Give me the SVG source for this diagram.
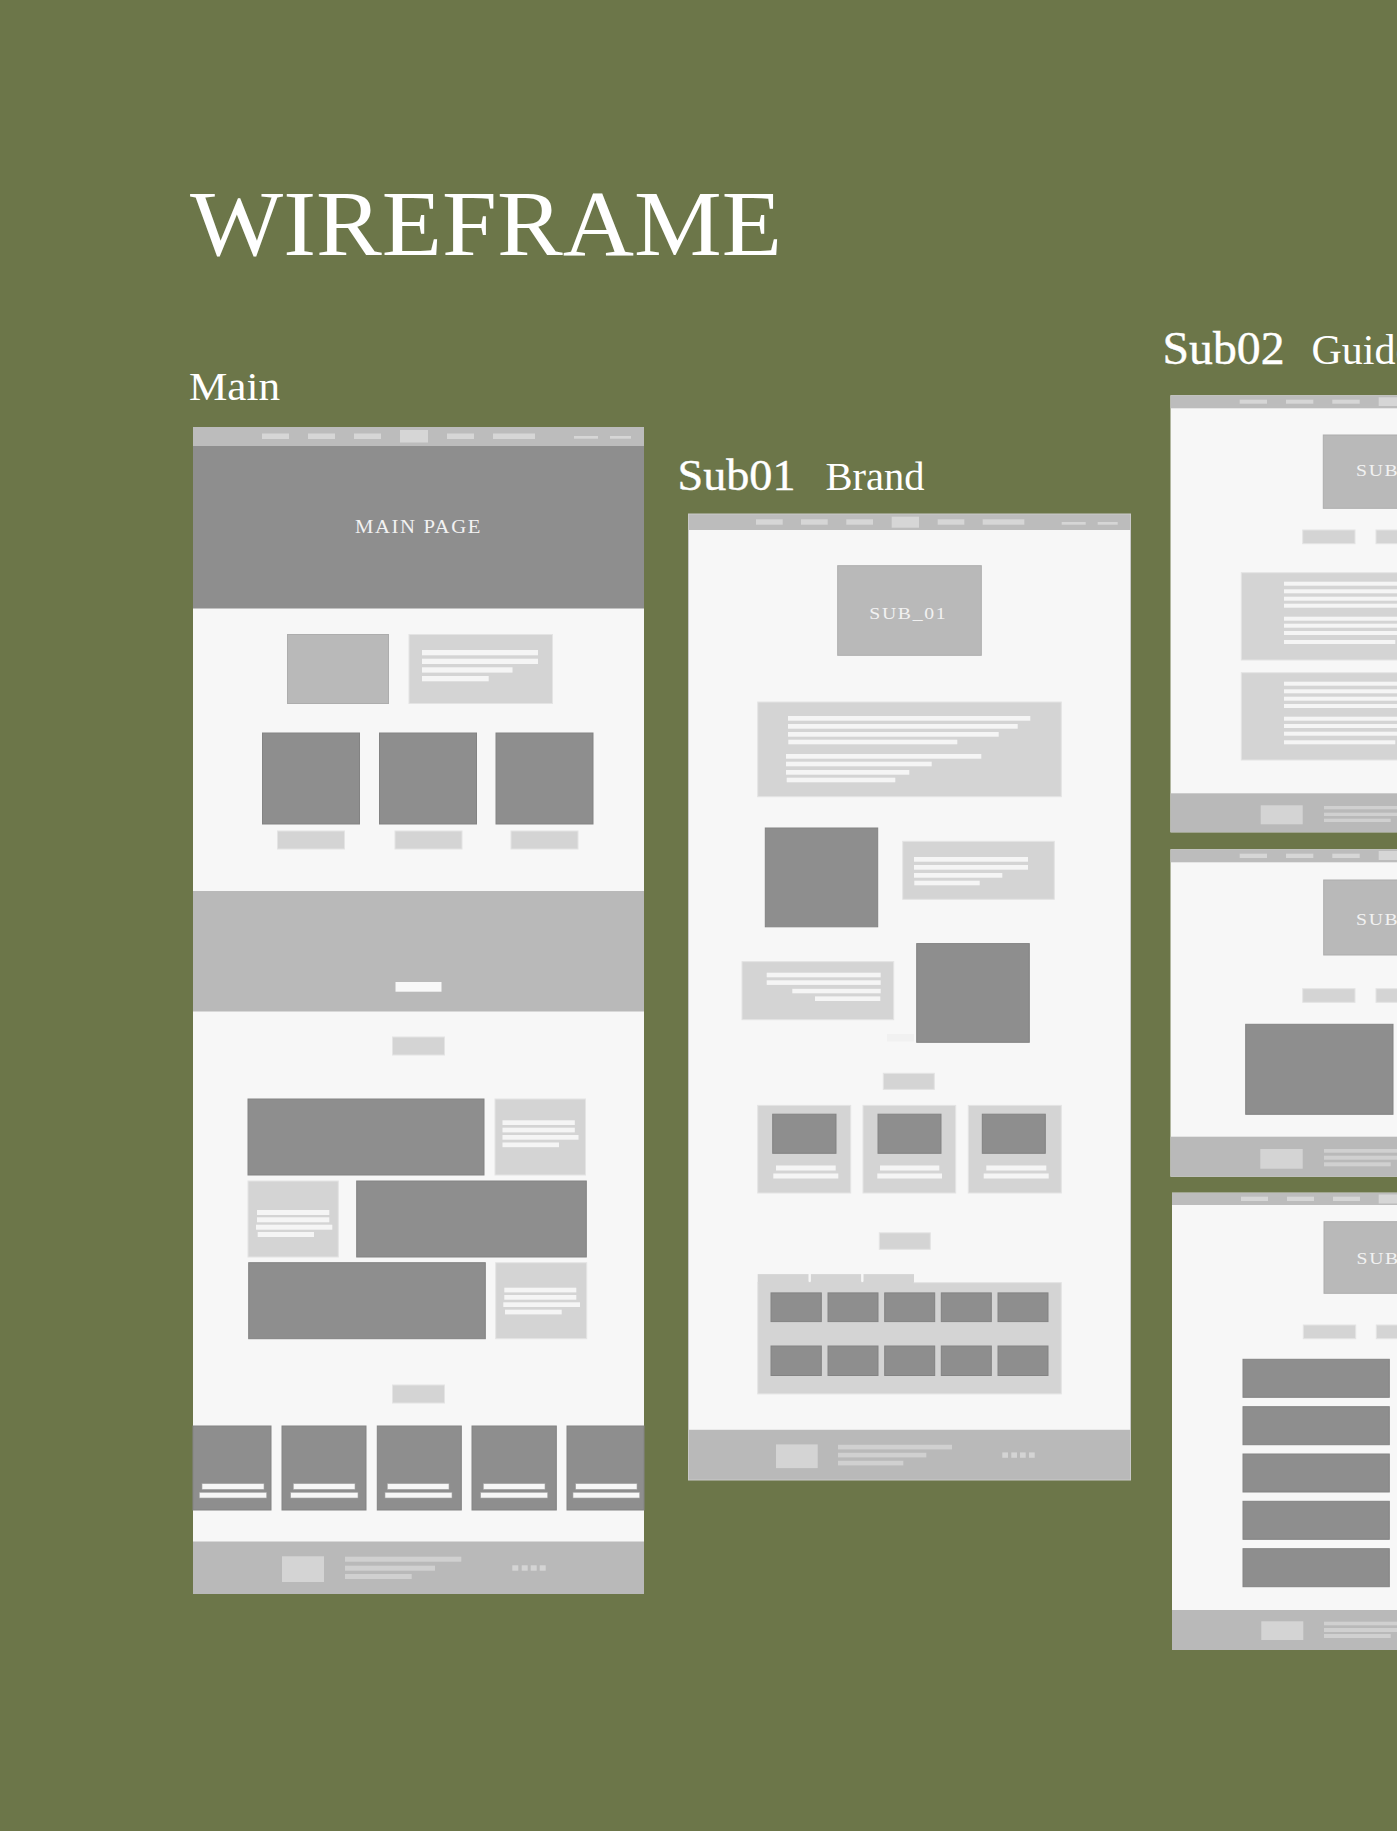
<svg xmlns="http://www.w3.org/2000/svg" width="1397" height="1831" viewBox="0 0 1397 1831">
  <style>
    .bg{fill:#6c7649}
    .page{fill:#f7f7f7}
    .bar{fill:#bcbcbc}
    .nav{fill:#d6d6d6}
    .hero{fill:#8e8e8e}
    .dk{fill:#8e8e8e;stroke:#838383;stroke-width:1}
    .md{fill:#b9b9b9;stroke:#adadad;stroke-width:1}
    .lt{fill:#d4d4d4;stroke:#e4e4e4;stroke-width:1}
    .ln{fill:#f5f5f5}
    .wl{fill:#f7f7f7;stroke:#a5a5a5;stroke-width:0.6}
    .ft{fill:#b9b9b9}
    .fl{fill:#d4d4d4}
    .fx{fill:#d0d0d0}
    .edge{fill:none;stroke:#c9c9c9;stroke-width:1}
    .title{font-family:"Liberation Serif","Times New Roman",serif;fill:#ffffff}
    .cap{font-family:"Liberation Serif","Times New Roman",serif;fill:#f2f2f2}
  </style>

  <rect class="bg" x="0" y="0" width="1397" height="1831"/>

  <!-- headings -->
  <g id="headings">
    <text class="title" x="190" y="255" font-size="93" textLength="592" lengthAdjust="spacingAndGlyphs">WIREFRAME</text>
    <text class="title" x="189" y="399.5" font-size="40" textLength="91" lengthAdjust="spacingAndGlyphs">Main</text>
    <text class="title" x="677.5" y="490" font-size="45" stroke="#ffffff" stroke-width="0.4" textLength="118" lengthAdjust="spacingAndGlyphs">Sub01</text>
    <text class="title" x="825.5" y="490" font-size="41" textLength="99" lengthAdjust="spacingAndGlyphs">Brand</text>
    <text class="title" x="1162.5" y="363.5" font-size="46" stroke="#ffffff" stroke-width="0.4" textLength="122" lengthAdjust="spacingAndGlyphs">Sub02</text>
    <text class="title" x="1311.5" y="363.5" font-size="42">Guide</text>
  </g>

  <!-- Main page -->
  <g id="main-page">
    <rect class="page" x="193" y="427" width="451" height="1167"/>
    <rect class="bar" x="193" y="427" width="451" height="19"/>
    <rect class="nav" x="262" y="433.5" width="27" height="5.5"/>
    <rect class="nav" x="308" y="433.5" width="27" height="5.5"/>
    <rect class="nav" x="354" y="433.5" width="27" height="5.5"/>
    <rect class="nav" x="400" y="430" width="28" height="12.5"/>
    <rect class="nav" x="447" y="433.5" width="27" height="5.5"/>
    <rect class="nav" x="493" y="433.5" width="42" height="5.5"/>
    <rect class="nav" x="574" y="436" width="24" height="2.7"/>
    <rect class="nav" x="610" y="436" width="21" height="2.7"/>

    <rect class="hero" x="193" y="446" width="451" height="162.5"/>
    <text class="cap" x="355" y="532.7" font-size="19.5" letter-spacing="1.5" textLength="127" lengthAdjust="spacingAndGlyphs">MAIN PAGE</text>

    <rect class="md" x="287.5" y="634.5" width="101" height="69"/>
    <rect class="lt" x="409" y="634.5" width="143.5" height="69"/>
    <rect class="ln" x="422" y="650" width="116" height="5.3"/>
    <rect class="ln" x="422" y="658.7" width="116" height="5.3"/>
    <rect class="ln" x="422" y="667.3" width="90.5" height="5.3"/>
    <rect class="ln" x="422" y="676" width="66.7" height="5.3"/>

    <rect class="dk" x="262.5" y="733" width="97" height="91"/>
    <rect class="dk" x="379.5" y="733" width="97" height="91"/>
    <rect class="dk" x="496" y="733" width="97" height="91"/>
    <rect class="lt" x="277.5" y="831" width="67" height="18"/>
    <rect class="lt" x="395" y="831" width="67" height="18"/>
    <rect class="lt" x="511" y="831" width="67" height="18"/>

    <rect class="ft" x="193" y="891" width="451" height="120.5"/>
    <rect fill="#f8f8f8" x="395.5" y="982" width="46" height="9.7"/>

    <rect class="lt" x="392.5" y="1037" width="52" height="18"/>

    <rect class="dk" x="248" y="1099" width="236" height="76"/>
    <rect class="lt" x="495" y="1099" width="90.5" height="76"/>
    <rect class="ln" x="502.5" y="1120.3" width="72.3" height="4.7"/>
    <rect class="ln" x="502.5" y="1127.7" width="72.3" height="4.7"/>
    <rect class="ln" x="502.5" y="1135" width="76" height="4.7"/>
    <rect class="ln" x="502.5" y="1142.5" width="56.5" height="4.7"/>

    <rect class="lt" x="248" y="1181" width="90.3" height="76"/>
    <rect class="ln" x="257" y="1210" width="72.3" height="5"/>
    <rect class="ln" x="257" y="1217.3" width="72.3" height="5"/>
    <rect class="ln" x="256" y="1224.7" width="76.3" height="5"/>
    <rect class="ln" x="257.7" y="1232" width="56.3" height="5"/>
    <rect class="dk" x="356.7" y="1181" width="229.6" height="76"/>

    <rect class="dk" x="248.7" y="1262.7" width="236.6" height="76"/>
    <rect class="lt" x="495.7" y="1262.7" width="91" height="76"/>
    <rect class="ln" x="504.3" y="1287.7" width="72" height="4.7"/>
    <rect class="ln" x="504.3" y="1295" width="72" height="4.7"/>
    <rect class="ln" x="503.3" y="1302.3" width="76.7" height="4.7"/>
    <rect class="ln" x="505" y="1309.7" width="56.7" height="4.7"/>

    <rect class="lt" x="392.5" y="1385" width="52" height="18"/>

    <rect class="dk" x="193" y="1426" width="78" height="84"/>
    <rect class="dk" x="282" y="1426" width="84" height="84"/>
    <rect class="dk" x="377.3" y="1426" width="84" height="84"/>
    <rect class="dk" x="472" y="1426" width="84.3" height="84"/>
    <rect class="dk" x="567" y="1426" width="77" height="84"/>
    <rect class="wl" x="202" y="1483.7" width="62" height="5.6"/>
    <rect class="wl" x="199.3" y="1492.3" width="67.4" height="5.7"/>
    <rect class="wl" x="293.3" y="1483.7" width="61.7" height="5.6"/>
    <rect class="wl" x="290.7" y="1492.3" width="67.3" height="5.7"/>
    <rect class="wl" x="387.3" y="1483.7" width="61.7" height="5.6"/>
    <rect class="wl" x="385" y="1492.3" width="67" height="5.7"/>
    <rect class="wl" x="483.3" y="1483.7" width="61.7" height="5.6"/>
    <rect class="wl" x="480.7" y="1492.3" width="67" height="5.7"/>
    <rect class="wl" x="575.7" y="1483.7" width="61.3" height="5.6"/>
    <rect class="wl" x="573" y="1492.3" width="66.7" height="5.7"/>

    <rect class="ft" x="193" y="1541.5" width="451" height="52.5"/>
    <rect class="fl" x="282" y="1556.3" width="42" height="25.7"/>
    <rect class="fx" x="345" y="1556.7" width="116.3" height="5"/>
    <rect class="fx" x="345" y="1565.7" width="90" height="5"/>
    <rect class="fx" x="345" y="1574" width="66.7" height="5"/>
    <rect class="fl" x="512.3" y="1565.3" width="6" height="5.4"/>
    <rect class="fl" x="521.7" y="1565.3" width="6" height="5.4"/>
    <rect class="fl" x="530.7" y="1565.3" width="6" height="5.4"/>
    <rect class="fl" x="539.7" y="1565.3" width="6" height="5.4"/>
  </g>

  <!-- Sub01 : Brand -->
  <g id="sub01-brand">
    <rect class="page" x="688.5" y="514" width="442" height="966"/>
    <rect class="bar" x="688.5" y="514" width="442" height="16"/>
    <rect class="nav" x="756" y="519.3" width="26.7" height="5.4"/>
    <rect class="nav" x="801" y="519.3" width="26.7" height="5.4"/>
    <rect class="nav" x="846.3" y="519.3" width="26.7" height="5.4"/>
    <rect class="nav" x="891.7" y="516.7" width="27.3" height="11"/>
    <rect class="nav" x="937.7" y="519.3" width="26.6" height="5.4"/>
    <rect class="nav" x="982.7" y="519.3" width="41.6" height="5.4"/>
    <rect class="nav" x="1061.7" y="522" width="24" height="2.7"/>
    <rect class="nav" x="1097.7" y="522" width="20" height="2.7"/>

    <rect class="md" x="837.7" y="565.7" width="143.6" height="89.6"/>
    <text class="cap" x="869.3" y="619.3" font-size="17.5" letter-spacing="1.5" textLength="78" lengthAdjust="spacingAndGlyphs">SUB_01</text>

    <rect class="lt" x="757.7" y="702" width="303.6" height="94.7"/>
    <rect class="ln" x="788" y="716" width="242.3" height="4.7"/>
    <rect class="ln" x="788" y="724" width="229.7" height="4.7"/>
    <rect class="ln" x="788" y="732" width="210.7" height="4.7"/>
    <rect class="ln" x="788.3" y="739.7" width="169" height="4.6"/>
    <rect class="ln" x="786" y="754" width="195.3" height="4.7"/>
    <rect class="ln" x="786" y="761.7" width="145.7" height="4.6"/>
    <rect class="ln" x="786" y="770" width="123.3" height="4.7"/>
    <rect class="ln" x="786.7" y="777.7" width="108.6" height="4.6"/>

    <rect class="dk" x="765.3" y="828" width="112.4" height="98.8"/>
    <rect class="lt" x="902.7" y="841.3" width="151.6" height="58"/>
    <rect class="ln" x="914" y="857" width="114" height="4.7"/>
    <rect class="ln" x="914" y="865" width="114" height="4.7"/>
    <rect class="ln" x="914" y="873" width="88.3" height="4.7"/>
    <rect class="ln" x="914.3" y="880.7" width="65.4" height="4.6"/>

    <rect class="lt" x="742" y="961.6" width="151.7" height="58.1"/>
    <rect class="ln" x="766.7" y="972.7" width="114" height="4.6"/>
    <rect class="ln" x="766.7" y="980.3" width="114" height="4.6"/>
    <rect class="ln" x="792.3" y="988.8" width="88.4" height="4.5"/>
    <rect class="ln" x="815" y="996.4" width="65.3" height="4.6"/>
    <rect class="dk" x="916.7" y="943.6" width="112.6" height="98.7"/>
    <rect fill="#f1f1f1" x="887" y="1034" width="27" height="7.5"/>

    <rect class="lt" x="883.3" y="1073.3" width="51" height="16.1"/>

    <rect class="lt" x="757.7" y="1105.4" width="93" height="87.6"/>
    <rect class="lt" x="863" y="1105.4" width="92.7" height="87.6"/>
    <rect class="lt" x="968.3" y="1105.4" width="93" height="87.6"/>
    <rect class="dk" x="772.7" y="1114.2" width="63.3" height="39.1"/>
    <rect class="dk" x="878" y="1114.2" width="63" height="39.1"/>
    <rect class="dk" x="982.3" y="1114.2" width="63" height="39.1"/>
    <rect class="ln" x="776" y="1165.5" width="59.7" height="5"/>
    <rect class="ln" x="880" y="1165.5" width="59.3" height="5"/>
    <rect class="ln" x="986.3" y="1165.5" width="60" height="5"/>
    <rect class="ln" x="773.3" y="1173.5" width="65" height="5"/>
    <rect class="ln" x="877.3" y="1173.5" width="64.7" height="5"/>
    <rect class="ln" x="983.7" y="1173.5" width="65" height="5"/>

    <rect class="lt" x="879.3" y="1232.8" width="51" height="16.5"/>

    <rect fill="#d4d4d4" x="757.7" y="1274.1" width="51" height="9"/>
    <rect fill="#d4d4d4" x="810.7" y="1274.1" width="50.6" height="9"/>
    <rect fill="#d4d4d4" x="863.3" y="1274.1" width="50.7" height="9"/>
    <rect class="lt" x="757.7" y="1282.6" width="303.6" height="111.3"/>
    <rect fill="#d4d4d4" x="758.2" y="1281" width="155.5" height="3"/>
    <rect fill="#f7f7f7" x="808.7" y="1274.1" width="2" height="8"/>
    <rect fill="#f7f7f7" x="861.3" y="1274.1" width="2" height="8"/>
    <rect class="dk" x="771" y="1292.9" width="50.3" height="28.7"/>
    <rect class="dk" x="828" y="1292.9" width="50" height="28.7"/>
    <rect class="dk" x="884.7" y="1292.9" width="50" height="28.7"/>
    <rect class="dk" x="941.3" y="1292.9" width="50" height="28.7"/>
    <rect class="dk" x="998" y="1292.9" width="50" height="28.7"/>
    <rect class="dk" x="771" y="1346" width="50.3" height="29.5"/>
    <rect class="dk" x="828" y="1346" width="50" height="29.5"/>
    <rect class="dk" x="884.7" y="1346" width="50" height="29.5"/>
    <rect class="dk" x="941.3" y="1346" width="50" height="29.5"/>
    <rect class="dk" x="998" y="1346" width="50" height="29.5"/>

    <rect class="ft" x="688.5" y="1429.8" width="442" height="50.2"/>
    <rect class="fl" x="776" y="1444.4" width="41.7" height="23.7"/>
    <rect class="fx" x="838" y="1444.8" width="114" height="4.6"/>
    <rect class="fx" x="838" y="1452.8" width="88.3" height="4.6"/>
    <rect class="fx" x="838" y="1460.8" width="65.3" height="4.6"/>
    <rect class="fl" x="1002.3" y="1452.4" width="5.7" height="5.4"/>
    <rect class="fl" x="1011.3" y="1452.4" width="5.7" height="5.4"/>
    <rect class="fl" x="1020" y="1452.4" width="5.7" height="5.4"/>
    <rect class="fl" x="1029" y="1452.4" width="5.7" height="5.4"/>
    <rect class="edge" x="688.5" y="514" width="442" height="966"/>
  </g>

  <!-- Sub02 : Guide, first page -->
  <g id="sub02-guide-a">
    <rect class="page" x="1170.5" y="395.3" width="450" height="437"/>
    <rect class="bar" x="1170.5" y="395.3" width="450" height="13"/>
    <rect class="nav" x="1239.7" y="399.7" width="27.3" height="4"/>
    <rect class="nav" x="1286" y="399.7" width="27.3" height="4"/>
    <rect class="nav" x="1332.3" y="399.7" width="27.4" height="4"/>
    <rect class="nav" x="1378.7" y="397.3" width="27.3" height="8.7"/>

    <rect class="md" x="1323.3" y="435" width="143.6" height="73.3"/>
    <text class="cap" x="1356" y="476" font-size="17.5" letter-spacing="1.5" textLength="78" lengthAdjust="spacingAndGlyphs">SUB_02</text>

    <rect class="lt" x="1302.7" y="530" width="52.3" height="13.7"/>
    <rect class="lt" x="1376" y="530" width="52.3" height="13.7"/>

    <rect class="lt" x="1241.3" y="572.7" width="303.6" height="87.3"/>
    <rect class="ln" x="1284" y="581.7" width="220" height="4"/>
    <rect class="ln" x="1284" y="589.3" width="220" height="4"/>
    <rect class="ln" x="1284" y="596.7" width="220" height="4"/>
    <rect class="ln" x="1284" y="603.7" width="220" height="4"/>
    <rect class="ln" x="1284" y="616.7" width="220" height="4"/>
    <rect class="ln" x="1284" y="623.7" width="220" height="4"/>
    <rect class="ln" x="1284" y="631" width="220" height="4"/>
    <rect class="ln" x="1284" y="640" width="111.3" height="4"/>

    <rect class="lt" x="1241.3" y="672.7" width="303.6" height="87.3"/>
    <rect class="ln" x="1284" y="681.7" width="220" height="4"/>
    <rect class="ln" x="1284" y="689.3" width="220" height="4"/>
    <rect class="ln" x="1284" y="696.7" width="220" height="4"/>
    <rect class="ln" x="1284" y="704" width="220" height="4"/>
    <rect class="ln" x="1284" y="716.7" width="220" height="4"/>
    <rect class="ln" x="1284" y="724" width="220" height="4"/>
    <rect class="ln" x="1284" y="731.7" width="220" height="4"/>
    <rect class="ln" x="1284" y="740.3" width="111.3" height="4"/>

    <rect class="ft" x="1170.5" y="793.3" width="450" height="39"/>
    <rect class="fl" x="1260.7" y="805.3" width="42" height="19"/>
    <rect class="fx" x="1324" y="806" width="114" height="3.3"/>
    <rect class="fx" x="1324" y="812.7" width="88" height="3.3"/>
    <rect class="fx" x="1324" y="818.7" width="66.7" height="3.3"/>
  </g>

  <!-- Sub02 : Guide, second page -->
  <g id="sub02-guide-b">
    <rect class="page" x="1170.5" y="849.3" width="450" height="327.4"/>
    <rect class="bar" x="1170.5" y="849.3" width="450" height="13"/>
    <rect class="nav" x="1239.7" y="853.7" width="27.3" height="4.3"/>
    <rect class="nav" x="1286" y="853.7" width="27.3" height="4.3"/>
    <rect class="nav" x="1332.3" y="853.7" width="27.4" height="4.3"/>
    <rect class="nav" x="1378.7" y="851" width="27.3" height="9"/>

    <rect class="md" x="1323.7" y="880" width="143.6" height="75"/>
    <text class="cap" x="1356" y="925" font-size="17.5" letter-spacing="1.5" textLength="78" lengthAdjust="spacingAndGlyphs">SUB_02</text>

    <rect class="lt" x="1302.7" y="988.7" width="52.3" height="13.6"/>
    <rect class="lt" x="1376" y="988.7" width="52.3" height="13.6"/>

    <rect class="dk" x="1245.7" y="1024.3" width="147.3" height="90"/>

    <rect class="ft" x="1170.5" y="1136.7" width="450" height="40"/>
    <rect class="fl" x="1260.3" y="1149" width="42.4" height="19.7"/>
    <rect class="fx" x="1324" y="1149" width="114" height="3.7"/>
    <rect class="fx" x="1324" y="1155.7" width="88" height="4"/>
    <rect class="fx" x="1324" y="1162.3" width="66.7" height="4"/>
  </g>

  <!-- Sub02 : Guide, third page -->
  <g id="sub02-guide-c">
    <rect class="page" x="1172" y="1192.7" width="450" height="457.3"/>
    <rect class="bar" x="1172" y="1192.7" width="450" height="12.3"/>
    <rect class="nav" x="1241" y="1196.7" width="27" height="4.3"/>
    <rect class="nav" x="1287" y="1196.7" width="27" height="4.3"/>
    <rect class="nav" x="1333" y="1196.7" width="27" height="4.3"/>
    <rect class="nav" x="1378.7" y="1194.5" width="27.3" height="9"/>

    <rect class="md" x="1324" y="1221.7" width="143.6" height="71.6"/>
    <text class="cap" x="1356.5" y="1264.3" font-size="17.5" letter-spacing="1.5" textLength="78" lengthAdjust="spacingAndGlyphs">SUB_02</text>

    <rect class="lt" x="1303.3" y="1325" width="52.4" height="13.7"/>
    <rect class="lt" x="1376.3" y="1325" width="52.4" height="13.7"/>

    <rect class="dk" x="1243" y="1359.3" width="146.3" height="38"/>
    <rect class="dk" x="1243" y="1406.7" width="146.3" height="38"/>
    <rect class="dk" x="1243" y="1454" width="146.3" height="38"/>
    <rect class="dk" x="1243" y="1501.3" width="146.3" height="38"/>
    <rect class="dk" x="1243" y="1548.7" width="146.3" height="38"/>

    <rect class="ft" x="1172" y="1610" width="450" height="40"/>
    <rect class="fl" x="1261.3" y="1621.3" width="42" height="18.7"/>
    <rect class="fx" x="1324" y="1621.7" width="114" height="3.6"/>
    <rect class="fx" x="1324" y="1628" width="88" height="4"/>
    <rect class="fx" x="1324" y="1634" width="66.7" height="4"/>
  </g>
</svg>
